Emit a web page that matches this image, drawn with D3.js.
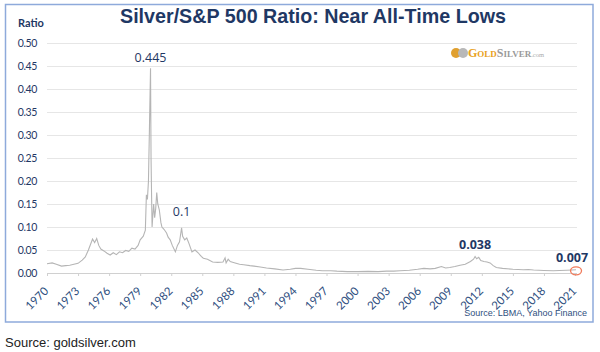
<!DOCTYPE html>
<html>
<head>
<meta charset="utf-8">
<script src="https://cdn.jsdelivr.net/npm/d3@7"></script>
<style>
  body { margin: 0; background: #fff; }
  svg { display: block; }
</style>
</head>
<body>
<div id="chart"></div>
<script>
// data (decimal year, silver / S&P 500 ratio)
var years = [1970.0, 1970.5, 1970.9, 1971.4, 1971.8, 1972.2, 1972.6, 1973.0, 1973.4, 1973.7,
  1974.0, 1974.2, 1974.4, 1974.6, 1974.8, 1975.0, 1975.2, 1975.5, 1975.8, 1976.1,
  1976.4, 1976.7, 1977.0, 1977.3, 1977.6, 1977.9, 1978.2, 1978.5, 1978.8, 1979.0,
  1979.3, 1979.5, 1979.6, 1979.7, 1979.8, 1979.9, 1980.0, 1980.05, 1980.1, 1980.15,
  1980.3, 1980.4, 1980.5, 1980.6, 1980.7, 1980.85, 1981.0, 1981.1, 1981.3, 1981.55,
  1981.7, 1981.9, 1982.1, 1982.4, 1982.6, 1982.8, 1983.0, 1983.1, 1983.3, 1983.5,
  1983.7, 1984.0, 1984.3, 1984.6, 1984.9, 1985.1, 1985.5, 1986.0, 1986.5, 1987.0,
  1987.2, 1987.3, 1987.5, 1987.7, 1988.0, 1988.6, 1989.0, 1989.6, 1990.0, 1990.6,
  1991.2, 1992.0, 1992.8, 1993.5, 1994.0, 1994.5, 1995.2, 1996.0, 1996.6, 1997.4,
  1998.0, 1999.0, 2000.0, 2001.0, 2002.0, 2002.8, 2003.5, 2004.1, 2005.0, 2005.8,
  2006.4, 2007.0, 2007.5, 2008.1, 2008.5, 2008.9, 2009.4, 2009.9, 2010.4, 2010.9,
  2011.2, 2011.35, 2011.5, 2011.7, 2011.9, 2012.2, 2012.5, 2012.8, 2013.1, 2013.4,
  2014.0, 2015.0, 2016.0, 2016.5, 2017.0, 2018.0, 2018.9, 2019.5, 2020.2, 2020.7,
  2021.1];
var ratio = [0.020, 0.022, 0.019, 0.015, 0.016, 0.017, 0.019, 0.021, 0.028, 0.035,
  0.050, 0.062, 0.074, 0.066, 0.075, 0.060, 0.052, 0.048, 0.043, 0.039,
  0.044, 0.040, 0.046, 0.044, 0.049, 0.047, 0.054, 0.052, 0.060, 0.072,
  0.080, 0.093, 0.170, 0.160, 0.200, 0.320, 0.445, 0.250, 0.170, 0.100,
  0.150, 0.120, 0.140, 0.175, 0.150, 0.137, 0.110, 0.100, 0.095, 0.087,
  0.078, 0.072, 0.060, 0.046, 0.060, 0.068, 0.098, 0.080, 0.072, 0.076,
  0.065, 0.046, 0.050, 0.044, 0.036, 0.032, 0.030, 0.024, 0.023, 0.024,
  0.033, 0.022, 0.030, 0.025, 0.023, 0.019, 0.018, 0.016, 0.015, 0.013,
  0.011, 0.009, 0.0065, 0.008, 0.010, 0.010, 0.008, 0.006, 0.005, 0.005,
  0.004, 0.003, 0.003, 0.0035, 0.003, 0.004, 0.004, 0.005, 0.006, 0.008,
  0.010, 0.009, 0.010, 0.014, 0.011, 0.012, 0.014, 0.017, 0.019, 0.025,
  0.030, 0.036, 0.031, 0.034, 0.027, 0.025, 0.024, 0.022, 0.016, 0.012,
  0.010, 0.008, 0.007, 0.0075, 0.0065, 0.0055, 0.005, 0.0055, 0.006, 0.0065,
  0.007];
var yTicks = [0, 0.05, 0.10, 0.15, 0.20, 0.25, 0.30, 0.35, 0.40, 0.45, 0.50];
var xTicks = d3.range(1970, 2022, 3);
// callouts: [year, value, label, bold]
var callouts = [[1980.0, 0.445, "0.445", false], [1983.0, 0.098, "0.1", false],
  [2011.35, 0.036, "0.038", true], [2021.1, 0.007, "0.007", true]];

var W = 600, H = 352;
var navy = "#1f3864";
var svg = d3.select("#chart").append("svg").attr("width", W).attr("height", H);

var x = d3.scaleLinear().domain([1970, 2021]).range([47, 575]);
var y = d3.scaleLinear().domain([0, 0.5]).range([273, 43]);

// frame
svg.append("rect").attr("x", 5.5).attr("y", 4.5).attr("width", 587.5).attr("height", 317.5)
  .attr("fill", "none").attr("stroke", "#8eaadb").attr("stroke-width", 1.5);

// title
svg.append("text").attr("x", 313).attr("y", 23).attr("text-anchor", "middle")
  .attr("font-family", "'Liberation Sans Narrow', 'Liberation Sans', Arial, sans-serif")
  .attr("font-weight", "bold").attr("font-size", 21).attr("fill", navy)
  .attr("textLength", 386).attr("lengthAdjust", "spacingAndGlyphs")
  .text("Silver/S&P 500 Ratio: Near All-Time Lows");

svg.append("text").attr("x", 18).attr("y", 27)
  .attr("font-family", "Lato, 'Open Sans', sans-serif").attr("font-weight", "bold")
  .attr("font-size", 11).attr("fill", navy).text("Ratio");

// gridlines + y labels
var yAxis = d3.axisLeft(y).tickValues(yTicks).tickFormat(d3.format(".2f"))
  .tickSize(-530).tickPadding(10);
var gy = svg.append("g").attr("transform", "translate(47,0)").call(yAxis);
gy.select(".domain").remove();
gy.selectAll(".tick line").attr("stroke", "#e6e6e6").attr("stroke-width", 1);
gy.selectAll(".tick text").attr("font-family", "Lato, 'Open Sans', sans-serif")
  .attr("font-size", 10.5).attr("letter-spacing", -0.4).attr("fill", navy);

// x axis
var xAxis = d3.axisBottom(x).tickValues(xTicks).tickFormat(d3.format("d"))
  .tickSize(3).tickSizeOuter(0);
var gx = svg.append("g").attr("transform", "translate(0,273)").call(xAxis);
gx.select(".domain").attr("d", "M47,0.5H577").attr("stroke", "#d0d0d0");
gx.selectAll(".tick line").attr("stroke", "#d0d0d0");
gx.selectAll(".tick text")
  .attr("font-family", "Lato, 'Open Sans', sans-serif").attr("font-size", 11.5)
  .attr("fill", "#2f4f80").attr("text-anchor", "end")
  .attr("transform", "translate(-4,13) rotate(-45)").attr("dy", "0.7em").attr("y", 0);

// line
var pts = years.map(function(d, i) { return [d, ratio[i]]; });
var line = d3.line().x(function(d) { return x(d[0]); }).y(function(d) { return y(d[1]); });
svg.append("path").datum(pts).attr("d", line).attr("fill", "none")
  .attr("stroke", "#b5b5b5").attr("stroke-width", 1.1);

// callouts
svg.selectAll("text.callout").data(callouts).enter().append("text")
  .attr("class", "callout")
  .attr("x", function(d, i) { return x(d[0]) + (i == 3 ? -4 : 0); })
  .attr("y", function(d, i) { return y(d[1]) - (i == 0 ? 6 : i == 1 ? 12 : i == 2 ? 7 : 8); })
  .attr("text-anchor", "middle")
  .attr("font-family", "'Open Sans', 'Liberation Sans', sans-serif")
  .attr("font-size", 12.5).attr("font-weight", function(d) { return d[3] ? "bold" : "normal"; })
  .attr("fill", navy).text(function(d) { return d[2]; });

var last = callouts[3];
svg.append("ellipse").attr("cx", x(last[0])).attr("cy", y(last[1]) + 1)
  .attr("rx", 5.5).attr("ry", 4).attr("fill", "none")
  .attr("stroke", "#f07a5a").attr("stroke-width", 1.3);

// logo
var logo = svg.append("g").attr("transform", "translate(452,57)");
logo.append("circle").attr("cx", 4).attr("cy", -4).attr("r", 5).attr("fill", "#e0a030");
logo.append("circle").attr("cx", 11).attr("cy", -4).attr("r", 5).attr("fill", "#b8b8b8");
var lt = logo.append("text").attr("x", 16).attr("y", 0)
  .attr("font-family", "'Liberation Serif', serif").attr("font-weight", "bold");
lt.append("tspan").attr("font-size", 12).attr("fill", "#e8a020").text("G");
lt.append("tspan").attr("font-size", 9).attr("fill", "#e8a020").text("OLD");
lt.append("tspan").attr("font-size", 12).attr("fill", "#9a9a9a").text("S");
lt.append("tspan").attr("font-size", 9).attr("fill", "#9a9a9a").text("ILVER");
lt.append("tspan").attr("font-size", 6.5).attr("font-weight", "normal").attr("fill", "#aaa").text(".com");

// sources
svg.append("text").attr("x", 587).attr("y", 316).attr("text-anchor", "end")
  .attr("font-family", "'Liberation Sans Narrow', 'Liberation Sans', sans-serif")
  .attr("font-size", 9).attr("fill", "#2f4f80").text("Source: LBMA, Yahoo Finance");
svg.append("text").attr("x", 5).attr("y", 347)
  .attr("font-family", "'Liberation Sans', Arial, sans-serif")
  .attr("font-size", 13).attr("fill", "#222").text("Source:  goldsilver.com");
</script>
</body>
</html>
